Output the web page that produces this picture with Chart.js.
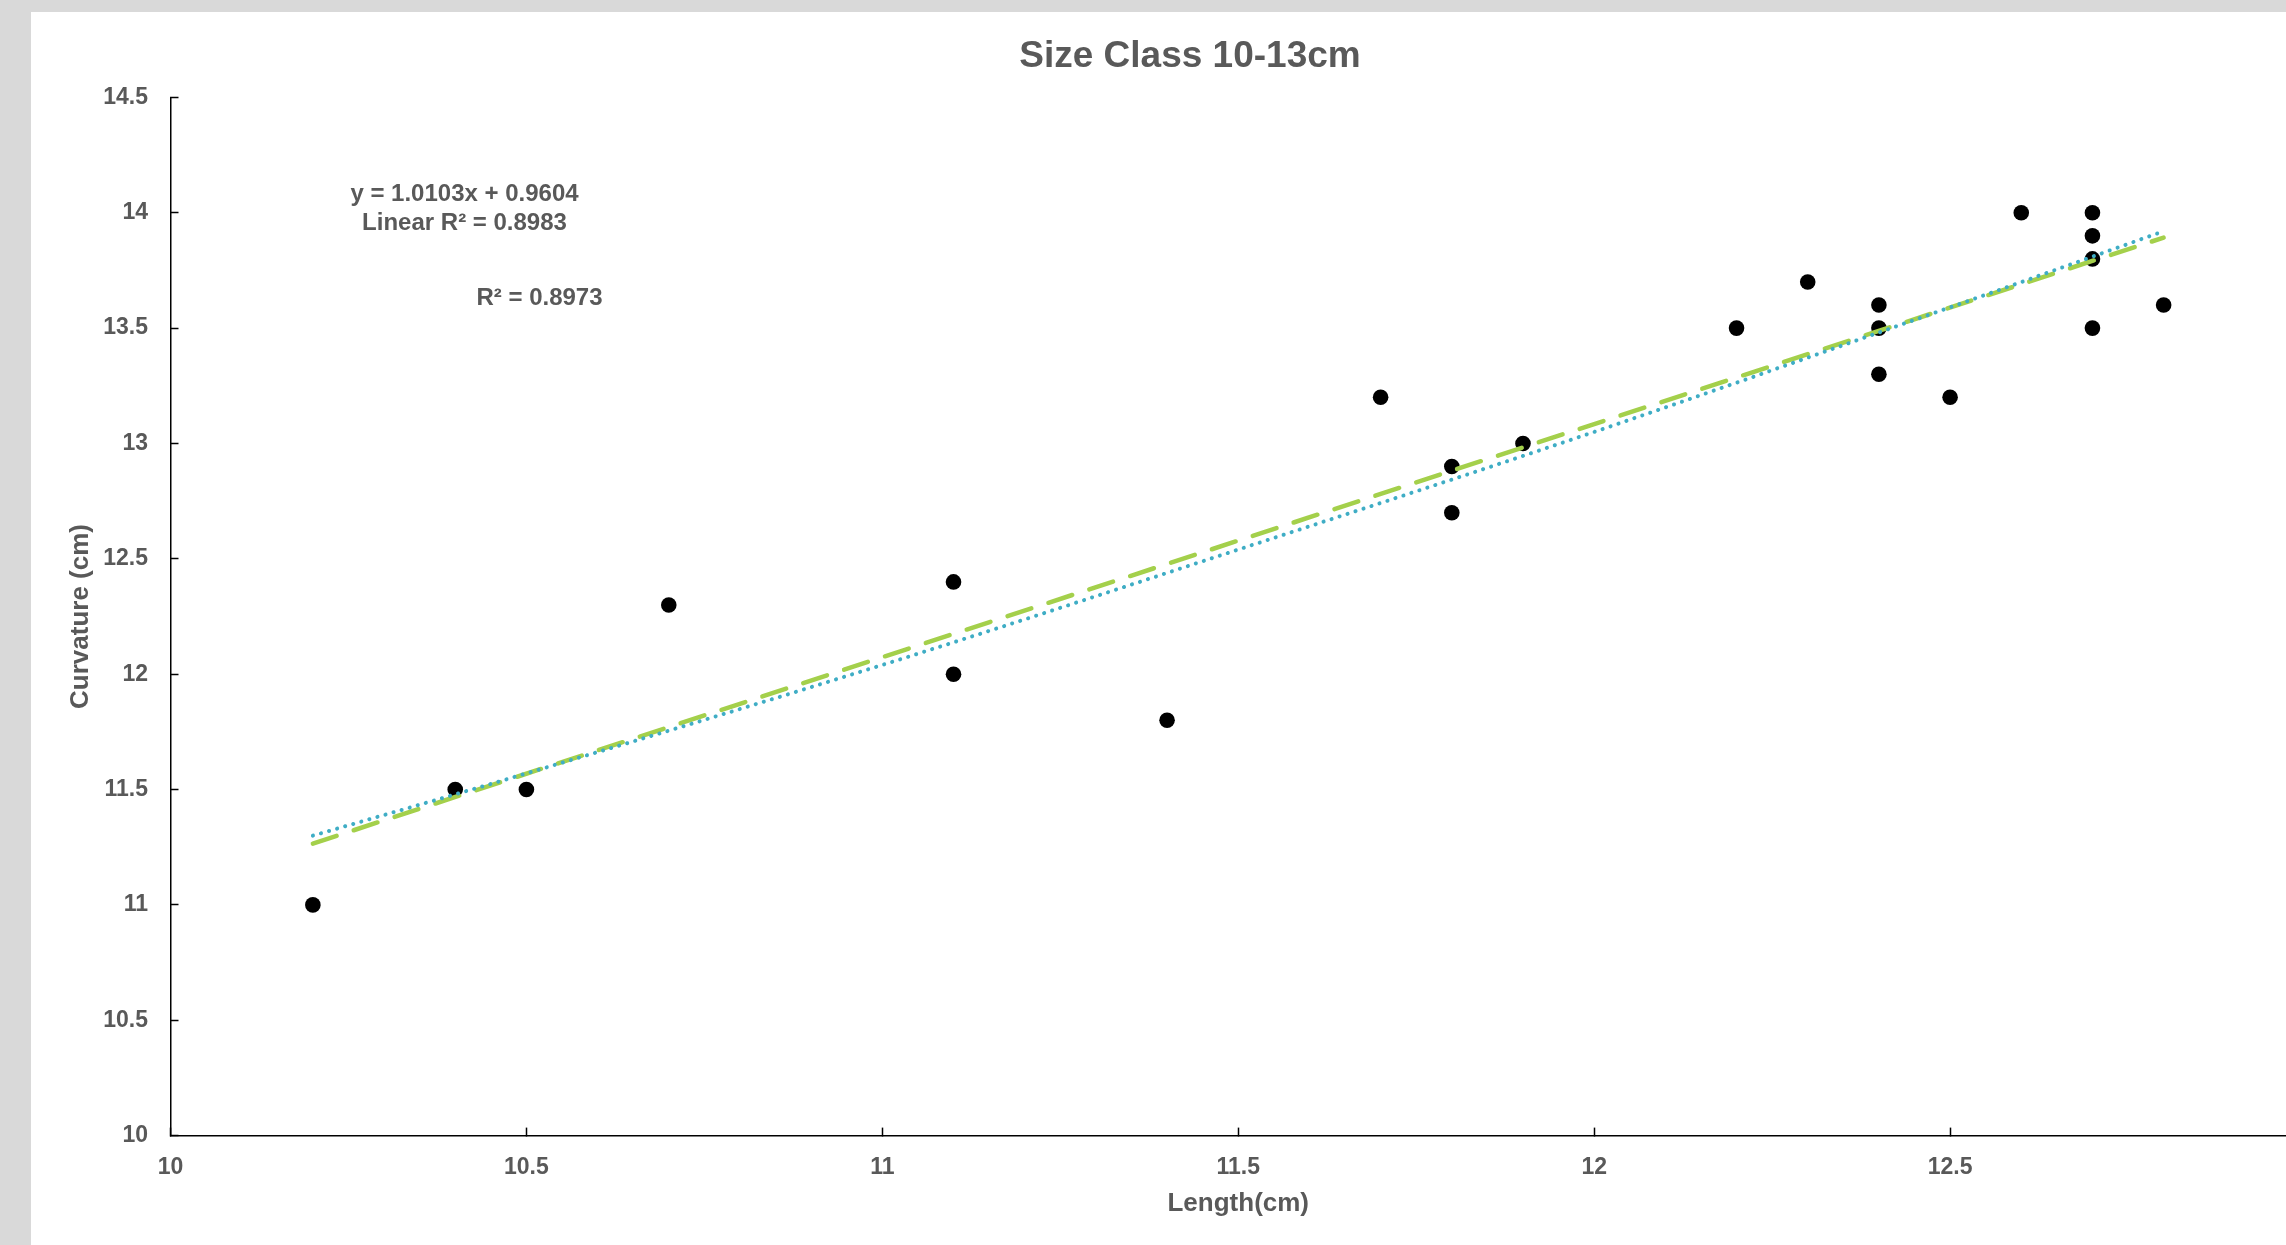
<!DOCTYPE html>
<html>
<head>
<meta charset="utf-8">
<title>Size Class 10-13cm</title>
<script src="https://cdn.jsdelivr.net/npm/chart.js@4.4.0/dist/chart.umd.min.js"></script>
<style>
  html, body { margin: 0; padding: 0; overflow: hidden; background: #d9d9d9; width: 2286px; height: 1245px; }
  #frame { position: absolute; left: 31px; top: 12px; width: 2318px; height: 1233px; background: #ffffff; }
  canvas { display: block; }
</style>
</head>
<body>
<div id="frame"><canvas id="chart" width="2318" height="1233"></canvas></div>
<script>
// Measured specimens: length vs curvature (cm)
const lengthCm    = [10.2, 10.4, 10.5, 10.7, 11.1, 11.1, 11.4, 11.7, 11.8, 11.8, 11.9, 12.2, 12.3, 12.4, 12.4, 12.4, 12.5, 12.6, 12.7, 12.7, 12.7, 12.7, 12.8];
const curvatureCm = [11.0, 11.5, 11.5, 12.3, 12.4, 12.0, 11.8, 13.2, 12.9, 12.7, 13.0, 13.5, 13.7, 13.6, 13.5, 13.3, 13.2, 14.0, 14.0, 13.9, 13.8, 13.5, 13.6];

// Linear trendline coefficients and fit quality
const linearSlope = 1.0103;
const linearIntercept = 0.9604;
const linearR2 = '0.8983';

// Second (curved) trendline, sampled along the length range
const curveX = [10.2, 10.5, 11.0, 11.5, 12.0, 12.5, 12.8];
const curveY = [11.30, 11.57, 12.04, 12.54, 13.05, 13.59, 13.92];
const curveR2 = '0.8973';

// Axis ticks
const xTickValues = [10, 10.5, 11, 11.5, 12, 12.5, 13];
const yTickValues = [10, 10.5, 11, 11.5, 12, 12.5, 13, 13.5, 14, 14.5];

const FONT = '"Liberation Sans", Arial, sans-serif';
const TEXT = '#595959';

const points = lengthCm.map((x, i) => ({ x, y: curvatureCm[i] }));
const xLo = Math.min(...lengthCm), xHi = Math.max(...lengthCm);
const linearLine = [xLo, xHi].map(x => ({ x, y: linearSlope * x + linearIntercept }));
const curveLine = curveX.map((x, i) => ({ x, y: curveY[i] }));

// Trendline labels, placed in the upper-left of the plot
const fitLabels = {
  id: 'fitLabels',
  afterDraw(chart) {
    const { ctx, chartArea } = chart;
    ctx.save();
    ctx.fillStyle = TEXT;
    ctx.font = 'bold 24px ' + FONT;
    ctx.textAlign = 'center';
    ctx.textBaseline = 'middle';
    const cx = chartArea.left + 294;
    ctx.fillText('y = ' + linearSlope + 'x + ' + linearIntercept, cx, chartArea.top + 96.5);
    ctx.fillText('Linear R\u00b2 = ' + linearR2, cx, chartArea.top + 125.5);
    ctx.fillText('R\u00b2 = ' + curveR2, chartArea.left + 369, chartArea.top + 200.5);
    ctx.restore();
  }
};

const plainNumber = v => String(v);

new Chart(document.getElementById('chart'), {
  type: 'scatter',
  data: {
    datasets: [
      {
        label: 'Curvature',
        data: points,
        backgroundColor: '#000000',
        borderWidth: 0,
        pointRadius: 7.8,
        pointHoverRadius: 7.8,
        order: 2
      },
      {
        label: 'Linear',
        data: linearLine,
        showLine: true,
        borderColor: '#a4d04b',
        borderWidth: 4.5,
        borderDash: [25, 18],
        borderCapStyle: 'round',
        pointRadius: 0,
        order: 1
      },
      {
        label: 'Curve',
        data: curveLine,
        showLine: true,
        borderColor: '#3fadc5',
        borderWidth: 4,
        borderDash: [0.1, 8.3],
        borderCapStyle: 'round',
        cubicInterpolationMode: 'monotone',
        pointRadius: 0,
        order: 0
      }
    ]
  },
  options: {
    responsive: false,
    animation: false,
    events: [],
    layout: { padding: 0 },
    plugins: {
      legend: { display: false },
      tooltip: { enabled: false },
      title: {
        display: true,
        text: 'Size Class 10-13cm',
        color: TEXT,
        font: { family: FONT, size: 37, weight: 'bold', lineHeight: 1.2 },
        padding: { top: 23, bottom: 18 }
      }
    },
    scales: {
      x: {
        type: 'linear',
        min: 10,
        max: 13,
        afterBuildTicks: s => { s.ticks = xTickValues.map(v => ({ value: v })); },
        afterFit: s => { s.height = 109.4; s.paddingRight = 43; s.paddingLeft = 0; },
        border: { display: true, color: '#000000', width: 1.5 },
        grid: { display: true, drawOnChartArea: false, drawTicks: true, tickLength: -8, tickColor: '#000000', tickWidth: 1.5 },
        ticks: { color: TEXT, padding: 26.5, maxRotation: 0, autoSkip: false, callback: plainNumber, font: { family: FONT, size: 23, weight: 'bold' } },
        title: { display: true, text: 'Length(cm)', color: TEXT, padding: { top: 0, bottom: 26 }, font: { family: FONT, size: 26, weight: 'bold', lineHeight: 1.2 } }
      },
      y: {
        type: 'linear',
        min: 10,
        max: 14.5,
        afterBuildTicks: s => { s.ticks = yTickValues.map(v => ({ value: v })); },
        afterFit: s => { s.width = 139.5; },
        border: { display: true, color: '#000000', width: 1.5 },
        grid: { display: true, drawOnChartArea: false, drawTicks: true, tickLength: -8, tickColor: '#000000', tickWidth: 1.5 },
        ticks: { color: TEXT, padding: 30.5, autoSkip: false, callback: plainNumber, font: { family: FONT, size: 23, weight: 'bold' } },
        title: { display: true, text: 'Curvature (cm)', color: TEXT, padding: { top: 34, bottom: 0 }, font: { family: FONT, size: 26, weight: 'bold', lineHeight: 1.2 } }
      }
    }
  },
  plugins: [fitLabels]
});
</script>
</body>
</html>
